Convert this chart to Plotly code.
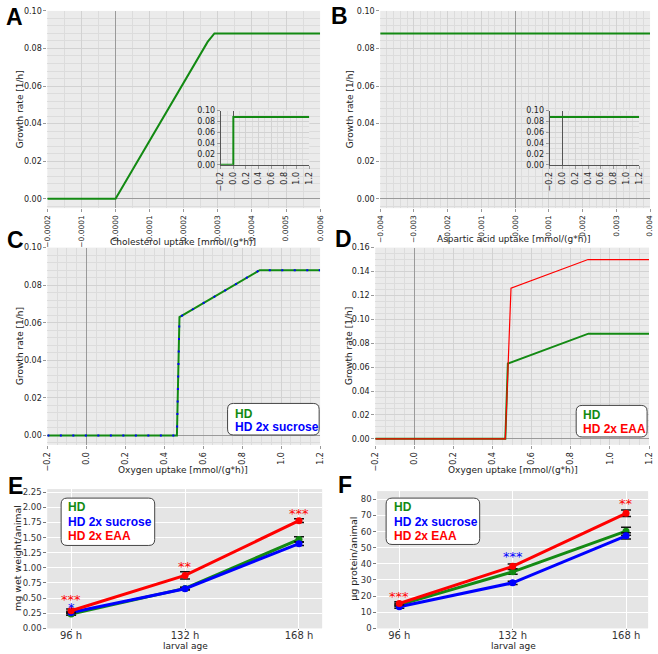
import plotly.graph_objects as go

W, H = 658, 654

# ---------------- data ----------------
chol_x = [-0.0002, 0.0, 0.00027, 0.00029, 0.0006]
chol_hd = [0.0, 0.0, 0.0835, 0.088, 0.088]
insetA_x = [-0.2, 0.0, 0.0003, 1.2]
insetA_hd = [0.0, 0.0, 0.088, 0.088]

asp_x = [-0.004, 0.004]
asp_hd = [0.088, 0.088]
insetB_x = [-0.2, 1.2]
insetB_hd = [0.088, 0.088]

o2_x = [-0.2, 0.465, 0.478, 0.89, 1.2]
o2_hd = [0.0, 0.0, 0.063, 0.088, 0.088]
o2_suc = [0.0, 0.0, 0.063, 0.088, 0.088]
o2_eaa_x = [-0.2, 0.465, 0.494, 0.888, 1.2]
o2_eaa = [0.0, 0.0, 0.126, 0.15, 0.15]

age = [96, 132, 168]
age_labels = ["96 h", "132 h", "168 h"]
ww_hd = [0.235, 0.66, 1.47]
ww_hd_err = [0.02, 0.02, 0.045]
ww_suc = [0.26, 0.655, 1.40]
ww_suc_err = [0.02, 0.02, 0.03]
ww_eaa = [0.29, 0.875, 1.78]
ww_eaa_err = [0.03, 0.06, 0.03]

prot_hd = [14.5, 35.0, 60.2]
prot_hd_err = [1.0, 1.5, 2.5]
prot_suc = [13.4, 28.2, 57.3]
prot_suc_err = [1.0, 1.0, 2.0]
prot_eaa = [15.4, 38.4, 71.3]
prot_eaa_err = [1.0, 1.5, 2.0]

stars_E = [("***", 96, 0.52, "red"), ("*", 96, 0.40, "blue"),
           ("**", 132, 1.07, "red"), ("***", 168, 1.94, "red")]
stars_F = [("***", 96, 21.5, "red"), ("***", 132, 46.5, "blue"),
           ("**", 168, 79, "red")]

GREEN, BLUE, RED = "#138a13", "#0000ff", "#ff0000"
FONT = "DejaVu Sans"
BOLD = "Liberation Sans"


def dx(a, b):
    return [a / W, b / W]


def dy(top, bottom):
    return [1 - bottom / H, 1 - top / H]


fig = go.Figure()

# ---------- panel A ----------
fig.add_trace(go.Scatter(x=chol_x, y=chol_hd, mode="lines", line=dict(color=GREEN, width=2),
                         xaxis="x", yaxis="y"))
fig.add_trace(go.Scatter(x=insetA_x, y=insetA_hd, mode="lines", line=dict(color=GREEN, width=2),
                         xaxis="x2", yaxis="y2"))
# ---------- panel B ----------
fig.add_trace(go.Scatter(x=asp_x, y=asp_hd, mode="lines", line=dict(color=GREEN, width=2),
                         xaxis="x3", yaxis="y3"))
fig.add_trace(go.Scatter(x=insetB_x, y=insetB_hd, mode="lines", line=dict(color=GREEN, width=2),
                         xaxis="x4", yaxis="y4"))
# ---------- panel C ----------
fig.add_trace(go.Scatter(x=o2_x, y=o2_hd, mode="lines", line=dict(color=GREEN, width=2),
                         xaxis="x5", yaxis="y5"))
fig.add_trace(go.Scatter(x=o2_x, y=o2_suc, mode="lines",
                         line=dict(color=BLUE, width=2, dash="2px,10.5px"),
                         xaxis="x5", yaxis="y5"))
# ---------- panel D ----------
fig.add_trace(go.Scatter(x=o2_x, y=o2_hd, mode="lines", line=dict(color=GREEN, width=2),
                         xaxis="x6", yaxis="y6"))
fig.add_trace(go.Scatter(x=o2_eaa_x, y=o2_eaa, mode="lines", line=dict(color=RED, width=1.2),
                         xaxis="x6", yaxis="y6"))


def series(x, y, err, color, xa, ya):
    fig.add_trace(go.Scatter(
        x=x, y=y, mode="lines+markers",
        line=dict(color=color, width=3),
        marker=dict(color=color, size=7),
        error_y=dict(type="data", array=err, color="#111", thickness=1.5, width=5),
        xaxis=xa, yaxis=ya))


# ---------- panel E ----------
series(age, ww_hd, ww_hd_err, GREEN, "x7", "y7")
series(age, ww_suc, ww_suc_err, BLUE, "x7", "y7")
series(age, ww_eaa, ww_eaa_err, RED, "x7", "y7")
# ---------- panel F ----------
series(age, prot_hd, prot_hd_err, GREEN, "x8", "y8")
series(age, prot_suc, prot_suc_err, BLUE, "x8", "y8")
series(age, prot_eaa, prot_eaa_err, RED, "x8", "y8")

BG = "#ebebeb"
GRID = "#d2d2d2"
MINOR = "#dcdcdc"
ZERO = "#9a9a9a"
TICKC = "#222"


def gax(domain, anchor, rng, dtick, minor, fmt=None, angle=None, size=8):
    d = dict(domain=domain, anchor=anchor, range=rng, dtick=dtick, tick0=0,
             showgrid=True, gridcolor=GRID, gridwidth=1,
             minor=dict(dtick=minor, tick0=0, showgrid=True, gridcolor=MINOR, gridwidth=1),
             zeroline=True, zerolinecolor=ZERO, zerolinewidth=1,
             ticks="outside", ticklen=3, tickcolor="#999",
             tickfont=dict(family=FONT, size=size, color=TICKC),
             showline=False)
    if fmt:
        d["tickformat"] = fmt
    if angle is not None:
        d["tickangle"] = angle
    return d


layout = dict(
    width=W, height=H, autosize=False, showlegend=False,
    margin=dict(l=0, r=0, t=0, b=0),
    paper_bgcolor="white", plot_bgcolor=BG,
    xaxis=gax(dx(43, 320), "y", [-0.0002, 0.0006], 0.0001, 0.00005, ".4f", -90, 7.5),
    yaxis=gax(dy(7, 207), "x", [-0.005, 0.1], 0.02, 0.004, ".2f", None, 8),
    xaxis2=gax(dx(219, 309), "y2", [-0.2, 1.2], 0.2, 0.1, ".1f", -90, 8),
    yaxis2=gax(dy(108, 163), "x2", [0, 0.1], 0.02, 0.01, ".2f", None, 8),
    xaxis3=gax(dx(381, 655), "y3", [-0.004, 0.004], 0.001, 0.0002, ".3f", -90, 7.5),
    yaxis3=gax(dy(7, 207), "x3", [-0.005, 0.1], 0.02, 0.004, ".2f", None, 8),
    xaxis4=gax(dx(553, 644), "y4", [-0.2, 1.2], 0.2, 0.1, ".1f", -90, 8),
    yaxis4=gax(dy(108, 163), "x4", [0, 0.1], 0.02, 0.01, ".2f", None, 8),
    xaxis5=gax(dx(43, 320), "y5", [-0.2, 1.2], 0.2, 0.05, ".1f", -90, 8),
    yaxis5=gax(dy(247, 447), "x5", [-0.005, 0.1], 0.02, 0.004, ".2f", None, 8),
    xaxis6=gax(dx(376, 654), "y6", [-0.2, 1.2], 0.2, 0.05, ".1f", -90, 8),
    yaxis6=gax(dy(247, 447), "x6", [-0.005, 0.16], 0.02, 0.005, ".2f", None, 8),
)

# inset axes: darker axis line
for k in ["xaxis2", "xaxis4", "yaxis2", "yaxis4"]:
    layout[k]["zerolinecolor"] = "#555"
    layout[k]["showline"] = True
    layout[k]["linecolor"] = "#555"


def cax(domain, anchor, rng, vals=None, texts=None, dtick=None, fmt=None, size=10):
    d = dict(domain=domain, anchor=anchor, range=rng, showgrid=True,
             gridcolor="#ffffff", gridwidth=1, zeroline=False,
             ticks="outside", ticklen=3, tickcolor="#777",
             tickfont=dict(family=FONT, size=size, color="#333"), showline=False)
    if vals is not None:
        d["tickvals"] = vals
        d["ticktext"] = texts
    if dtick is not None:
        d["dtick"] = dtick
        d["tick0"] = 0
    if fmt:
        d["tickformat"] = fmt
    return d


layout["xaxis7"] = cax(dx(43, 322), "y7", [88.5, 175.3], age, age_labels, size=10)
layout["yaxis7"] = cax(dy(492, 633), "x7", [0, 2.3], dtick=0.25, fmt=".2f", size=8.5)
layout["xaxis8"] = cax(dx(378, 653), "y8", [89, 175], age, age_labels, size=10)
layout["yaxis8"] = cax(dy(494, 633), "x8", [0, 85], dtick=10, size=8.5)
for k in ["xaxis7", "xaxis8"]:
    layout[k]["ticklen"] = 1
    layout[k]["ticklabelstandoff"] = -3

fig.update_layout(**layout)

# E/F plot backgrounds (ggplot-like grey) drawn below
shapes = []
for xa, ya in [("x7", "y7"), ("x8", "y8")]:
    shapes.append(dict(type="rect", xref=f"{xa} domain", yref=f"{ya} domain", x0=0, x1=1, y0=0, y1=1,
                       fillcolor="#e5e5e5", line=dict(width=0), layer="below"))


def rbox(x0, y0, x1, y1, r=6):
    X0, X1 = x0 / W, x1 / W
    Y0, Y1 = 1 - y1 / H, 1 - y0 / H
    rx, ry = r / W, r / H
    p = (f"M {X0+rx},{Y0} L {X1-rx},{Y0} Q {X1},{Y0} {X1},{Y0+ry} "
         f"L {X1},{Y1-ry} Q {X1},{Y1} {X1-rx},{Y1} L {X0+rx},{Y1} Q {X0},{Y1} {X0},{Y1-ry} "
         f"L {X0},{Y0+ry} Q {X0},{Y0} {X0+rx},{Y0} Z")
    return dict(type="path", path=p, xref="paper", yref="paper",
                fillcolor="white", line=dict(color="#444", width=1), layer="above")


shapes.append(rbox(226, 405, 319, 437))
shapes.append(rbox(580, 407, 652, 439))
shapes.append(rbox(57, 501, 152, 549))
shapes.append(rbox(387, 501, 482, 548))
fig.update_layout(shapes=shapes)

ann = []


def txt(text, x, y, size=9, color="#222", family=FONT, angle=0, xanchor="center", bold=False):
    if bold:
        text = f"<b>{text}</b>"
    ann.append(dict(text=text, x=x / W, y=1 - y / H, xref="paper", yref="paper",
                    showarrow=False, textangle=angle, xanchor=xanchor, yanchor="middle",
                    font=dict(family=family, size=size, color=color)))


# panel letters
for L, x, y in [("A", 10, 13), ("B", 340, 12), ("C", 11, 239), ("D", 344, 238),
                ("E", 11, 489), ("F", 345, 488)]:
    txt(L, x, y, size=23, color="black", family=BOLD, bold=True)

# axis titles
txt("Growth rate [1/h]", 15, 107, size=9, angle=-90)
txt("Growth rate [1/h]", 350, 107, size=9, angle=-90)
txt("Growth rate [1/h]", 15, 347, size=9, angle=-90)
txt("Growth rate [1/h]", 350, 347, size=9, angle=-90)
txt("Cholesterol uptake [mmol/(g*h)]", 181, 241, size=9)
txt("Aspartic acid uptake [mmol/(g*h)]", 516, 238, size=9)
txt("Oxygen uptake [mmol/(g*h)]", 181, 472, size=9)
txt("Oxygen uptake [mmol/(g*h)]", 516, 472, size=9)
txt("mg wet weight/animal", 12, 562, size=9.5, angle=-90)
txt("µg protein/animal", 354, 563, size=9.5, angle=-90)
txt("larval age", 183, 651, size=9)
txt("larval age", 516, 651, size=9)

# legends
txt("HD", 232, 416, size=12, color=GREEN, family=BOLD, xanchor="left", bold=True)
txt("HD 2x sucrose", 232, 429, size=12, color=BLUE, family=BOLD, xanchor="left", bold=True)
txt("HD", 585, 417, size=12, color=GREEN, family=BOLD, xanchor="left", bold=True)
txt("HD 2x EAA", 585, 431, size=12, color=RED, family=BOLD, xanchor="left", bold=True)
for x0 in (62, 393):
    txt("HD", x0, 510, size=12, color=GREEN, family=BOLD, xanchor="left", bold=True)
    txt("HD 2x sucrose", x0, 525, size=12, color=BLUE, family=BOLD, xanchor="left", bold=True)
    txt("HD 2x EAA", x0, 539, size=12, color=RED, family=BOLD, xanchor="left", bold=True)

# significance stars
for s, xv, yv, c in stars_E:
    ann.append(dict(text=s, x=xv, y=yv, xref="x7", yref="y7", showarrow=False, yshift=-3,
                    font=dict(family=FONT, size=13, color=c)))
for s, xv, yv, c in stars_F:
    ann.append(dict(text=s, x=xv, y=yv, xref="x8", yref="y8", showarrow=False, yshift=-3,
                    font=dict(family=FONT, size=13, color=c)))

fig.update_layout(annotations=ann)
fig.write_html("out.html", config={"displayModeBar": False},
               post_script="document.body.style.margin='0';document.body.style.overflow='hidden';")
